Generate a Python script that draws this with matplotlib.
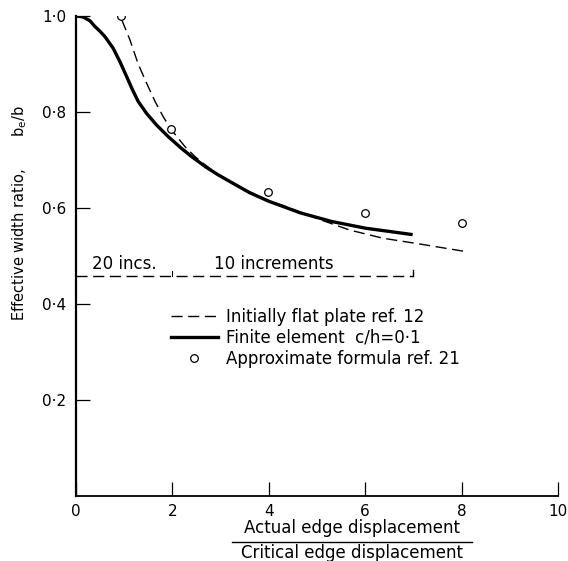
import matplotlib
matplotlib.use("Agg")
import matplotlib.pyplot as plt
from matplotlib.lines import Line2D

# finite element c/h = 0.1 (thick solid)
fe_x = [0, 0.15, 0.29, 0.394, 0.5, 0.6, 0.77, 0.91, 1.05, 1.155, 1.29, 1.465, 1.67, 1.91,
        2.19, 2.4, 2.7, 2.95, 3.3, 3.6, 4.0, 4.3, 4.65, 5.3, 6.0, 6.95]
fe_y = [1.0, 0.998, 0.99, 0.978, 0.968, 0.957, 0.933, 0.905, 0.874, 0.85, 0.822, 0.797, 0.773, 0.749,
        0.724, 0.707, 0.685, 0.669, 0.649, 0.632, 0.614, 0.603, 0.59, 0.572, 0.558, 0.545]

# initially flat plate ref. 12 (dashed)
fp_x = [0.95, 1.12, 1.29, 1.465, 1.64, 1.81, 1.98, 2.26, 2.47, 2.64, 2.9, 3.3, 3.6, 4.0, 4.3,
        5.0, 5.68, 6.37, 7.07, 8.1]
fp_y = [0.992, 0.95, 0.90, 0.86, 0.822, 0.79, 0.763, 0.728, 0.707, 0.693, 0.673, 0.650, 0.634, 0.615, 0.605,
        0.578, 0.554, 0.537, 0.526, 0.509]

# approximate formula ref. 21 (circles)
af_x = [0.93, 1.98, 3.99, 6.0, 8.0]
af_y = [1.0, 0.765, 0.634, 0.589, 0.568]

# increments line
inc_y = 0.458
inc_split = 2.0
inc_end = 7.0

xticks = [0, 2, 4, 6, 8, 10]
xticklabels = ["0", "2", "4", "6", "8", "10"]
yticks = [0.2, 0.4, 0.6, 0.8, 1.0]
yticklabels = ["0·2", "0·4", "0·6", "0·8", "1·0"]

plt.rcParams['font.family'] = ['DejaVu Sans']
fig = plt.figure(figsize=(5.68, 5.61), dpi=100)
ax = fig.add_axes([76/568, 1 - 496/561, 482/568, 480/561])

ax.plot(fp_x, fp_y, color='black', lw=1.0, dashes=(8, 4), label='Initially flat plate ref. 12')
ax.plot(fe_x, fe_y, color='black', lw=2.4, solid_joinstyle='round', label='Finite element  c/h=0·1')
ax.plot(af_x, af_y, 'o', ms=5.5, mfc='white', mec='black', mew=0.9, ls='none',
        label='Approximate formula ref. 21')

# increments marker
ax.plot([0, inc_end], [inc_y, inc_y], color='black', lw=1.0, dashes=(8, 4))
ax.plot([inc_end, inc_end], [inc_y, inc_y + 0.012], color='black', lw=1.0)
ax.plot([inc_split, inc_split], [inc_y, inc_y + 0.01], color='black', lw=0.8)
ax.text(1.0, inc_y + 0.006, "20 incs.", ha='center', va='bottom', fontsize=12)
ax.text(4.1, inc_y + 0.006, "10 increments", ha='center', va='bottom', fontsize=12)

ax.set_xlim(0, 10)
ax.set_ylim(0, 1.0)
for s in ['top', 'right']:
    ax.spines[s].set_visible(False)
ax.spines['left'].set_linewidth(1.6)
ax.spines['bottom'].set_linewidth(1.3)
ax.set_xticks(xticks)
ax.set_xticklabels(xticklabels, fontsize=11)
ax.set_yticks(yticks)
ax.set_yticklabels(yticklabels, fontsize=11)
ax.tick_params(direction='in', length=10, width=0.9)
ax.tick_params(axis='x', pad=6)
ax.tick_params(axis='y', pad=7)

ax.set_ylabel("Effective width ratio,       b$_\\mathregular{e}$/b", fontsize=10.5)
ax.yaxis.set_label_coords(-0.098, 0.59)

ax.legend(loc='upper left', bbox_to_anchor=(0.18, 0.41), frameon=False, fontsize=12,
          handlelength=2.8, handletextpad=0.5, labelspacing=0.2, borderpad=0)

fig.text(352/568, 1 - 528/561, "Actual edge displacement", ha='center', va='center', fontsize=12)
fig.text(352/568, 1 - 553/561, "Critical edge displacement", ha='center', va='center', fontsize=12)
fig.add_artist(Line2D([232/568, 472/568], [1 - 542/561, 1 - 542/561], color='black', lw=1.0))

fig.savefig("out.png", dpi=100)
